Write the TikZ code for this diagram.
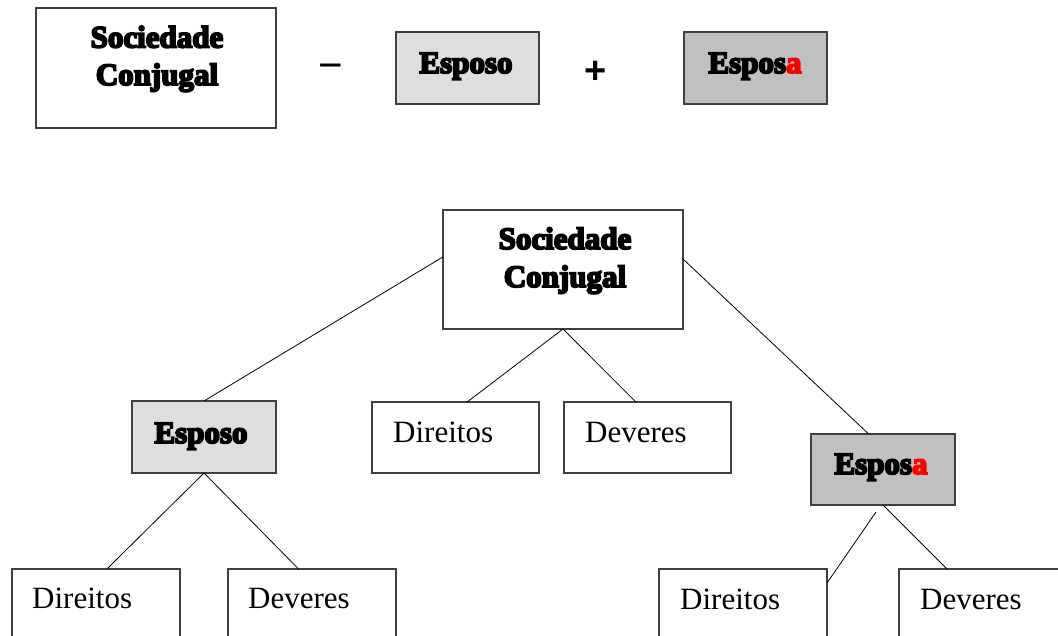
\documentclass[tikz,border=0pt]{standalone}
\usepackage{fontspec}
\setmainfont{Liberation Serif}
\newfontface\heavy{Liberation Serif Bold}[FakeBold=6]
\newfontface\sansr{Liberation Sans}
\newfontface\sansb{Liberation Sans Bold}
\usetikzlibrary{calc}
\definecolor{lightfill}{HTML}{DEDEDE}
\definecolor{darkfill}{HTML}{C0C0C0}
\definecolor{redtxt}{HTML}{FF0000}
\begin{document}
\begin{tikzpicture}[x=1pt,y=-1pt,
  box/.style={draw=black!75,line width=1.3pt,rectangle,inner sep=0pt,outer sep=0pt},
  lightbox/.style={box,fill=lightfill},
  darkbox/.style={box,fill=darkfill},
  boldtxt/.style={inner sep=0pt,anchor=base,font=\heavy\fontsize{31}{37}\selectfont},
  plaintxt/.style={inner sep=0pt,anchor=base west,font=\fontsize{31}{37}\selectfont},
  signtxt/.style={inner sep=0pt,anchor=base,font=\sansr\fontsize{42}{48}\selectfont},
  plustxt/.style={inner sep=0pt,anchor=base,font=\sansb\fontsize{38}{44}\selectfont},
  link/.style={draw=black,line width=0.8pt}]
\clip (0,0) rectangle (1058,636);
\fill[white] (0,0) rectangle (1058,636);
% boxes
\node[box,minimum width=240,minimum height=120] (SCtop) at (156,68) {};
\node[lightbox,minimum width=143,minimum height=72] (EspT) at (467.5,68) {};
\node[darkbox,minimum width=143,minimum height=72] (EsaT) at (755.5,68) {};
\node[box,minimum width=240,minimum height=119] (SCmid) at (563,269.5) {};
\node[lightbox,minimum width=144,minimum height=72] (EspM) at (204,437) {};
\node[box,minimum width=167,minimum height=71] (DirM) at (455.5,437.5) {};
\node[box,minimum width=167,minimum height=71] (DevM) at (647.5,437.5) {};
\node[darkbox,minimum width=144,minimum height=71] (EsaR) at (883,469.5) {};
\node[box,minimum width=168,minimum height=71] (DirBL) at (96,604.5) {};
\node[box,minimum width=168,minimum height=71] (DevBL) at (312,604.5) {};
\node[box,minimum width=168,minimum height=71] (DirBR) at (743,604.5) {};
\node[box,minimum width=168,minimum height=71] (DevBR) at (983,604.5) {};
% texts
\node[boldtxt] (tA) at (157,47.5) {Sociedade};
\node[boldtxt] (tB) at (157,85) {Conjugal};
\node[signtxt] (minus) at (330.5,80) {−};
\node[boldtxt] (tC) at (466,73) {Esposo};
\node[plustxt] (plus) at (595.5,84) {+};
\node[boldtxt] (tD) at (755,73) {Espos\textcolor{redtxt}{a}};
\node[boldtxt] (tE) at (565,249) {Sociedade};
\node[boldtxt] (tF) at (565,287) {Conjugal};
\node[boldtxt] (tG) at (201,443) {Esposo};
\node[plaintxt] (tH) at ($(DirM.north west)+(21,40)$) {Direitos};
\node[plaintxt] (tI) at ($(DevM.north west)+(21,40)$) {Deveres};
\node[boldtxt] (tJ) at (881,474) {Espos\textcolor{redtxt}{a}};
\node[plaintxt] (tK) at ($(DirBL.north west)+(20,39.5)$) {Direitos};
\node[plaintxt] (tL) at ($(DevBL.north west)+(20,39.5)$) {Deveres};
\node[plaintxt] (tM) at ($(DirBR.north west)+(21,40)$) {Direitos};
\node[plaintxt] (tN) at ($(DevBR.north west)+(21,40)$) {Deveres};
% connectors
\coordinate (gapA) at ($(EsaR.south)+(-7,7)$);
\draw[link] (SCmid.174.5) -- (EspM.north);
\draw[link] (SCmid.5.5) -- ($(EsaR.north west)!0.4!(EsaR.north east)$);
\draw[link] (SCmid.south) -- ($(DirM.north west)!0.57!(DirM.north east)$);
\draw[link] (SCmid.south) -- ($(DevM.north west)!0.43!(DevM.north east)$);
\draw[link] (EspM.south) -- ($(DirBL.north west)!0.565!(DirBL.north east)$);
\draw[link] (EspM.south) -- ($(DevBL.north west)!0.42!(DevBL.north east)$);
\draw[link] (gapA) -- ($(DirBR.north east)+(0,14)$);
\draw[link] (EsaR.south) -- ($(DevBR.north west)!0.286!(DevBR.north east)$);
\end{tikzpicture}
\end{document}
